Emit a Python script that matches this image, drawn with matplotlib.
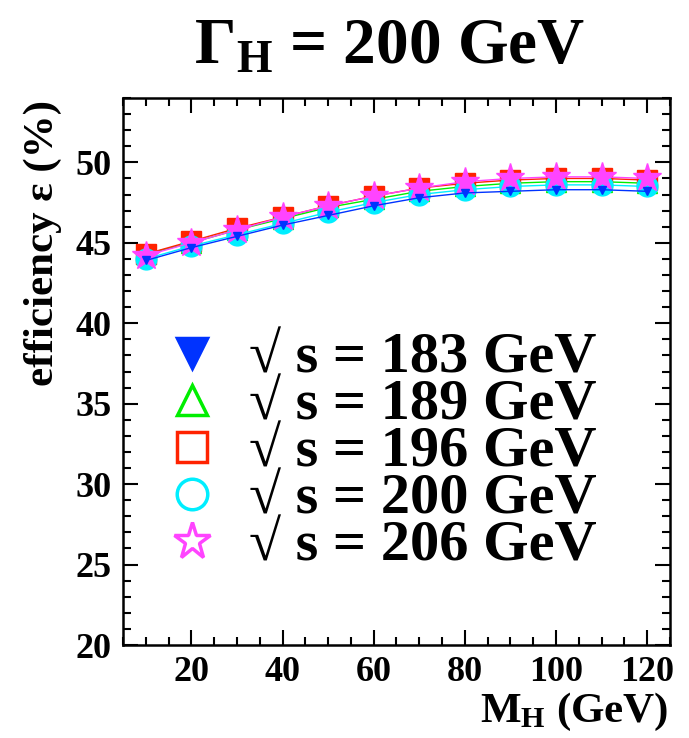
import matplotlib
matplotlib.use("Agg")
import matplotlib.pyplot as plt
from matplotlib.lines import Line2D
from matplotlib.ticker import MultipleLocator

plt.rcParams['font.family'] = ['Liberation Serif', 'DejaVu Serif']
plt.rcParams['font.weight'] = 'bold'
plt.rcParams['mathtext.fontset'] = 'custom'
plt.rcParams['mathtext.rm'] = 'Liberation Serif:bold'
plt.rcParams['mathtext.it'] = 'Liberation Serif:italic:bold'
plt.rcParams['mathtext.bf'] = 'Liberation Serif:bold'

# Higgs mass points (GeV)
m_h = [10, 20, 30, 40, 50, 60, 70, 80, 90, 100, 110, 120]

# selection efficiency (%) per centre-of-mass energy
eff_183 = [43.9, 44.7, 45.4, 46.1, 46.7, 47.3, 47.8, 48.1, 48.2, 48.3, 48.3, 48.2]
eff_189 = [44.3, 45.0, 45.8, 46.5, 47.2, 47.7, 48.2, 48.5, 48.7, 48.8, 48.8, 48.7]
eff_196 = [44.3, 45.1, 45.9, 46.6, 47.3, 47.9, 48.4, 48.7, 48.9, 49.0, 49.0, 48.9]
eff_200 = [44.0, 44.8, 45.5, 46.2, 46.9, 47.5, 48.0, 48.3, 48.5, 48.6, 48.6, 48.5]
eff_206 = [44.2, 45.0, 45.8, 46.6, 47.3, 47.9, 48.4, 48.8, 49.0, 49.1, 49.1, 49.0]

energies = ['183', '189', '196', '200', '206']

fig = plt.figure(figsize=(6.89, 7.38), dpi=100)
ax = fig.add_axes([0.1785, 0.126, 0.7939, 0.7412])

# (data, colour, marker, size on plot)
series = [
    (eff_189, '#00ee00', '^', 15),
    (eff_196, '#ff2200', 's', 15),
    (eff_200, '#00eeff', 'o', 15),
    (eff_206, '#ff44ff', '*', 21),
    (eff_183, '#0033ff', 'v', 6),
]
for y, c, mk, ms in series:
    ax.plot(m_h, y, color=c, lw=1.0, marker=mk, ms=ms, mec=c, mfc=c)

# legend with open markers (filled only for 183 GeV)
leg_style = {
    '183': ('#0033ff', 'v', 22, True),
    '189': ('#00ee00', '^', 22, False),
    '196': ('#ff2200', 's', 22, False),
    '200': ('#00eeff', 'o', 22, False),
    '206': ('#ff44ff', '*', 28, False),
}
handles = []
labels = []
for e in energies:
    c, mk, ms, filled = leg_style[e]
    handles.append(Line2D([], [], ls='none', marker=mk, ms=ms, mec=c,
                          mfc=c if filled else 'none', mew=2.5))
    labels.append('√ s = %s GeV' % e)
ax.legend(handles, labels, loc='upper left', bbox_to_anchor=(0.073, 0.572),
          frameon=False, fontsize=42, handlelength=0.98, handletextpad=0.5,
          labelspacing=-0.1, borderaxespad=0, borderpad=0)

ax.set_xlim(5, 125)
ax.set_ylim(20, 54)
ax.xaxis.set_major_locator(MultipleLocator(20))
ax.xaxis.set_minor_locator(MultipleLocator(5))
ax.yaxis.set_major_locator(MultipleLocator(5))
ax.yaxis.set_minor_locator(MultipleLocator(1))
ax.tick_params(which='both', direction='in', top=True, right=True, width=1.5)
ax.tick_params(which='major', length=11, labelsize=26, pad=8)
ax.tick_params(which='minor', length=6)
for s in ax.spines.values():
    s.set_linewidth(1.8)
for lab in ax.get_xticklabels() + ax.get_yticklabels():
    lab.set_fontweight('bold')

fig.text(0.566, 0.915, r'Γ$_{\mathrm{H}}$ = 200 GeV', ha='center', va='baseline',
         fontsize=47, fontweight='bold')
fig.text(0.9695, 0.022, r'M$_{\mathrm{H}}$ (GeV)', ha='right', va='baseline',
         fontsize=31, fontweight='bold')
fig.text(0.062, 0.865, 'efficiency ε (%)', ha='center', va='top', rotation=90,
         fontsize=31, fontweight='bold')

fig.savefig('out.png', dpi=100)
